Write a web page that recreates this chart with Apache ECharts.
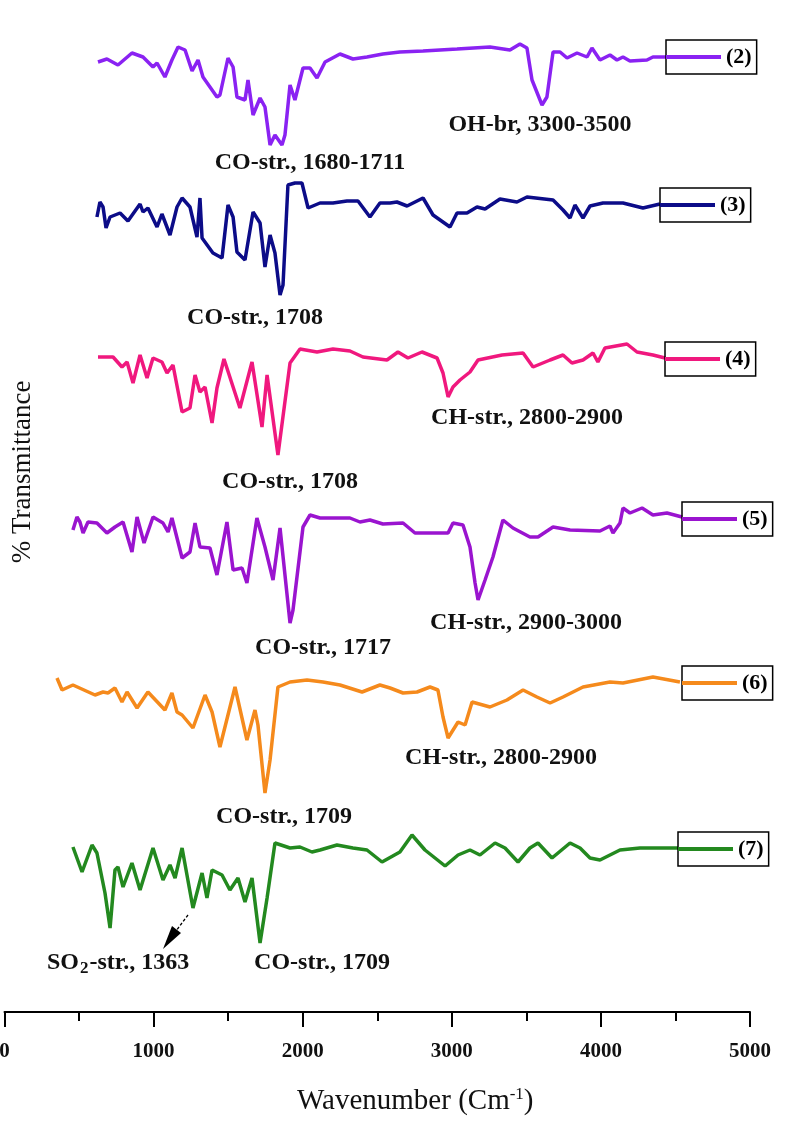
<!DOCTYPE html>
<html>
<head>
<meta charset="utf-8">
<script src="https://cdn.jsdelivr.net/npm/echarts@6/dist/echarts.min.js"></script>
<style>html,body{margin:0;padding:0;background:#fff}#c{width:787px;height:1122px}</style>
</head>
<body>
<div id="c"></div>
<script>
// ---- data: [wavenumber (cm-1), offset % transmittance] ----
const seriesNames = ['(2)', '(3)', '(4)', '(5)', '(6)', '(7)'];
const xTicks = [0, 1000, 2000, 3000, 4000, 5000];

const trace2 = [[627,950],[687,953],[761,947],[855,959],[929,955],[996,945],[1023,949],[1076,935],[1123,952],[1164,965],[1211,962],[1258,941],[1298,952],[1331,935],[1425,915],[1445,917],[1499,954],[1533,945],[1559,915],[1613,912],[1633,932],[1667,897],[1714,914],[1747,905],[1781,867],[1814,877],[1861,867],[1881,877],[1915,927],[1948,912],[2002,944],[2049,944],[2096,934],[2150,950],[2250,958],[2337,953],[2431,955],[2538,958],[2652,960],[2807,961],[3035,963],[3256,965],[3390,962],[3457,968],[3504,964],[3538,932],[3605,907],[3638,915],[3679,960],[3726,960],[3773,954],[3840,959],[3907,955],[3940,964],[3994,952],[4061,957],[4108,952],[4148,955],[4195,951],[4309,952],[4349,955],[4443,955]];

const trace3 = [[620,795],[640,810],[661,805],[681,784],[708,795],[775,799],[828,791],[909,808],[929,800],[962,804],[1023,785],[1056,798],[1110,777],[1157,805],[1191,814],[1244,805],[1291,775],[1311,814],[1325,774],[1398,759],[1459,754],[1499,807],[1533,795],[1559,760],[1613,752],[1667,800],[1714,789],[1747,745],[1781,777],[1814,759],[1848,717],[1868,727],[1901,827],[1948,829],[1995,829],[2036,804],[2116,809],[2203,809],[2297,811],[2371,811],[2451,795],[2518,809],[2586,809],[2632,810],[2700,806],[2807,814],[2874,797],[2988,785],[3035,799],[3102,799],[3169,805],[3223,803],[3323,813],[3437,810],[3504,815],[3679,812],[3746,802],[3793,794],[3826,807],[3880,794],[3927,806],[4014,809],[4148,809],[4282,804],[4396,808]];

const trace4 = [[627,655],[728,655],[788,645],[822,650],[862,629],[909,657],[956,634],[996,654],[1056,650],[1090,639],[1130,647],[1191,600],[1244,604],[1278,637],[1311,620],[1345,625],[1392,589],[1425,624],[1472,653],[1579,604],[1660,650],[1727,585],[1761,637],[1834,557],[1915,649],[1982,663],[2096,660],[2203,663],[2317,661],[2404,655],[2565,652],[2639,660],[2706,654],[2800,660],[2901,654],[2941,639],[2975,615],[3008,625],[3055,632],[3122,640],[3176,652],[3337,657],[3478,659],[3545,645],[3659,652],[3746,657],[3806,649],[3880,652],[3947,659],[3980,650],[4027,664],[4175,668],[4242,660],[4349,657],[4430,654]];

const trace5 = [[459,482],[486,495],[506,490],[527,479],[560,490],[620,489],[687,479],[741,485],[795,490],[855,460],[889,495],[936,469],[996,495],[1063,489],[1097,480],[1123,494],[1191,454],[1244,460],[1278,489],[1311,465],[1378,464],[1425,437],[1492,490],[1533,442],[1593,444],[1626,429],[1693,494],[1747,465],[1801,432],[1848,484],[1915,389],[1935,402],[2002,485],[2049,497],[2116,494],[2317,494],[2384,490],[2451,492],[2538,488],[2673,489],[2753,479],[2901,479],[2975,479],[3008,489],[3075,487],[3122,465],[3156,429],[3176,412],[3223,432],[3276,455],[3343,492],[3410,484],[3524,475],[3578,475],[3679,485],[3793,482],[3994,481],[4061,486],[4081,479],[4128,489],[4148,504],[4195,499],[4276,504],[4349,497],[4443,499],[4544,495]];

const trace6 = [[352,334],[386,322],[459,327],[607,317],[661,320],[694,319],[741,324],[788,310],[822,320],[889,304],[962,320],[1076,302],[1123,319],[1157,300],[1191,297],[1264,284],[1345,317],[1392,300],[1445,265],[1546,325],[1626,272],[1680,302],[1700,287],[1747,219],[1781,252],[1834,325],[1915,330],[2029,332],[2136,330],[2250,327],[2398,320],[2518,327],[2586,324],[2673,319],[2767,320],[2854,325],[2907,322],[2941,295],[2975,274],[3042,290],[3089,287],[3136,310],[3256,305],[3370,312],[3478,322],[3571,315],[3659,309],[3746,315],[3880,325],[4061,330],[4148,329],[4349,335],[4530,330]];

const trace7 = [[459,165],[520,140],[587,167],[620,159],[674,119],[708,84],[741,142],[761,145],[795,125],[855,149],[909,122],[996,164],[1063,132],[1110,147],[1144,134],[1191,164],[1264,104],[1325,139],[1358,114],[1392,142],[1459,137],[1512,122],[1566,134],[1613,110],[1660,134],[1714,69],[1761,114],[1814,169],[1915,164],[1982,165],[2062,160],[2116,162],[2230,167],[2337,164],[2431,162],[2532,150],[2652,160],[2733,177],[2820,162],[2955,146],[3042,157],[3122,162],[3189,157],[3290,169],[3357,164],[3444,150],[3524,164],[3578,169],[3672,154],[3793,169],[3860,164],[3927,154],[3994,152],[4128,162],[4262,164],[4396,164],[4517,164]];

const traces = [trace2, trace3, trace4, trace5, trace6, trace7];
const colors = ['#8A22F2', '#0C0C88', '#F0187E', '#9A14CF', '#F58A1C', '#23891F'];

// ---- chart ----
const chart = echarts.init(document.getElementById('c'), null, {renderer: 'canvas'});
const serif = "'Liberation Serif', 'Times New Roman', serif";

const legendBoxes = [
  {left: 666, top: 40},
  {left: 660, top: 188},
  {left: 665, top: 342},
  {left: 682, top: 502},
  {left: 682, top: 666},
  {left: 678, top: 832}
];

const legends = seriesNames.map((n, i) => ({
  data: [n],
  left: legendBoxes[i].left,
  top: legendBoxes[i].top,
  orient: 'horizontal',
  padding: [6, 5, 6, 0],
  borderColor: '#000',
  borderWidth: 1.5,
  borderRadius: 0,
  itemWidth: 55,
  itemHeight: 4,
  icon: 'rect',
  textStyle: {fontFamily: serif, fontWeight: 'bold', fontSize: 22, color: '#000'},
  selectedMode: false
}));

const series = traces.map((d, i) => ({
  name: seriesNames[i],
  type: 'line',
  data: d,
  symbol: 'none',
  showSymbol: false,
  smooth: false,
  lineStyle: {color: colors[i], width: 3.5},
  itemStyle: {color: colors[i]},
  z: 3,
  animation: false
}));

const labelStyle = {fontFamily: serif, fontWeight: 'bold', fontSize: 24, fill: '#111'};
function lbl(text, cx, cy) {
  return {type: 'text', x: cx, y: cy, style: Object.assign({text: text, align: 'center', verticalAlign: 'middle'}, labelStyle), z: 10};
}

const graphics = [
  lbl('CO-str., 1680-1711', 310, 163),
  lbl('OH-br, 3300-3500', 540, 125),
  lbl('CO-str., 1708', 255, 318),
  lbl('CO-str., 1708', 290, 482),
  lbl('CH-str., 2800-2900', 527, 418),
  lbl('CO-str., 1717', 323, 648),
  lbl('CH-str., 2900-3000', 526, 623),
  lbl('CO-str., 1709', 284, 817),
  lbl('CH-str., 2800-2900', 501, 758),
  lbl('CO-str., 1709', 322, 963),
  {type: 'text', x: 47, y: 963, z: 10, style: {
    text: '{a|SO}{s|2}{a|-str., 1363}', align: 'left', verticalAlign: 'middle',
    rich: {
      a: {fontFamily: serif, fontWeight: 'bold', fontSize: 24, fill: '#111'},
      s: {fontFamily: serif, fontWeight: 'bold', fontSize: 17, fill: '#111', padding: [12, 1, 0, 1]}
    }
  }},
  {type: 'line', z: 10, shape: {x1: 188, y1: 915, x2: 176, y2: 931}, style: {stroke: '#000', lineWidth: 1.3, lineDash: [3, 2]}},
  {type: 'polygon', z: 10, shape: {points: [[163, 949], [172, 926], [181, 933]]}, style: {fill: '#000'}},
  {type: 'text', z: 10, x: 23, y: 472, rotation: Math.PI / 2, style: {
    text: '% Transmittance', align: 'center', verticalAlign: 'middle',
    fontFamily: serif, fontSize: 27, fill: '#111'
  }}
];

chart.setOption({
  backgroundColor: '#fff',
  animation: false,
  color: colors,
  grid: {left: 4.5, right: 37, top: 12, bottom: 110, containLabel: false, outerBoundsMode: 'none'},
  legend: legends,
  xAxis: {
    type: 'value', min: 0, max: 5000, interval: 1000,
    name: '{a|Wavenumber (Cm}{s|-1}{a|)}',
    nameLocation: 'middle', nameGap: 74,
    nameTextStyle: {
      padding: [0, 0, 0, 76],
      rich: {
        a: {fontFamily: serif, fontSize: 29, color: '#111'},
        s: {fontFamily: serif, fontSize: 17, color: '#111', padding: [0, 0, 14, 0]}
      }
    },
    axisLine: {show: true, onZero: false, lineStyle: {color: '#000', width: 2}},
    axisTick: {show: true, length: 15, lineStyle: {color: '#000', width: 2}},
    minorTick: {show: true, splitNumber: 2, length: 9, lineStyle: {color: '#000', width: 2}},
    splitLine: {show: false},
    axisLabel: {
      margin: 29, fontFamily: serif, fontWeight: 'bold', fontSize: 21, color: '#111',
      formatter: v => (xTicks.indexOf(v) >= 0 ? String(v) : '')
    }
  },
  yAxis: {
    type: 'value', min: 0, max: 1000, show: false
  },
  series: series,
  graphic: graphics
});
</script>
</body>
</html>
